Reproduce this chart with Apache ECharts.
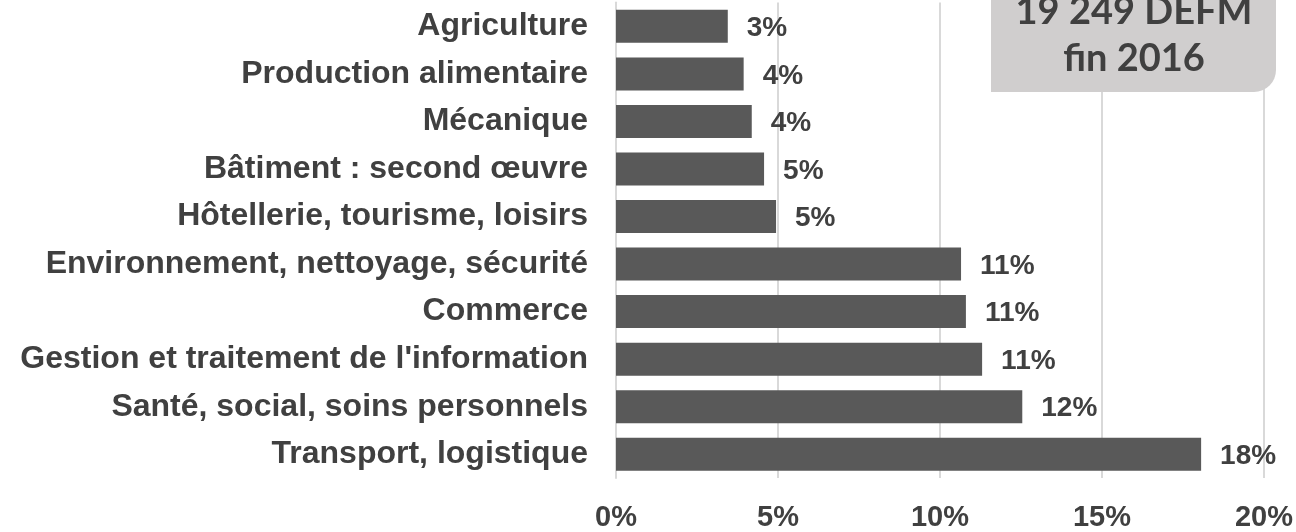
<!DOCTYPE html>
<html>
<head>
<meta charset="utf-8">
<script src="https://cdn.jsdelivr.net/npm/echarts@6/dist/echarts.min.js"></script>
<style>
html,body{margin:0;padding:0;background:#fff;}
#chart{width:1296px;height:532px;}
</style>
</head>
<body>
<div id="chart"></div>
<script>
const categories = [
  "Agriculture",
  "Production alimentaire",
  "Mécanique",
  "Bâtiment : second œuvre",
  "Hôtellerie, tourisme, loisirs",
  "Environnement, nettoyage, sécurité",
  "Commerce",
  "Gestion et traitement de l'information",
  "Santé, social, soins personnels",
  "Transport, logistique"
];
const values = [3.45, 3.94, 4.19, 4.57, 4.94, 10.65, 10.8, 11.3, 12.54, 18.06];
const valueLabels = ["3%", "4%", "4%", "5%", "5%", "11%", "11%", "11%", "12%", "18%"];
const xTicks = [0, 5, 10, 15, 20];
const boxLines = ["19 249 DEFM", "fin 2016"];

const chart = echarts.init(document.getElementById('chart'));
chart.setOption({
  animation: false,
  backgroundColor: '#ffffff',
  grid: { left: 616, right: 31, top: 2.6, bottom: 51, containLabel: false },
  xAxis: {
    type: 'value',
    min: xTicks[0],
    max: xTicks[xTicks.length - 1],
    interval: 5,
    axisLine: { show: false },
    axisTick: { show: false },
    splitLine: { show: true, lineStyle: { color: '#d9d9d9', width: 2 } },
    axisLabel: {
      margin: 25,
      color: '#404040',
      fontFamily: 'Liberation Sans, Arial, sans-serif',
      fontWeight: 'bold',
      fontSize: 29,
      formatter: v => v + '%'
    }
  },
  yAxis: {
    type: 'category',
    data: categories,
    inverse: true,
    axisLine: { show: true, lineStyle: { color: '#d9d9d9', width: 2 } },
    axisTick: { show: false },
    axisLabel: {
      margin: 28,
      color: '#404040',
      fontFamily: 'Liberation Sans, Arial, sans-serif',
      fontWeight: 'bold',
      fontSize: 32
    }
  },
  series: [{
    type: 'bar',
    data: values,
    barWidth: 33,
    itemStyle: { color: '#595959' },
    label: {
      show: true,
      position: 'right',
      distance: 19,
      offset: [0, 2],
      color: '#404040',
      fontFamily: 'Liberation Sans, Arial, sans-serif',
      fontWeight: 'bold',
      fontSize: 28,
      formatter: p => valueLabels[p.dataIndex]
    }
  }],
  graphic: [
    {
      type: 'rect',
      left: 991,
      top: -20,
      shape: { width: 285, height: 112, r: [0, 0, 22, 0] },
      style: { fill: '#d0cece' },
      z: 10
    },
    {
      type: 'text',
      x: 1134,
      y: 31,
      style: {
        text: boxLines[0],
        fill: '#404040',
        font: 'bold 38px Lato, "Open Sans", sans-serif',
        textAlign: 'center',
        textVerticalAlign: 'bottom'
      },
      z: 11
    },
    {
      type: 'text',
      x: 1134,
      y: 78,
      style: {
        text: boxLines[1],
        fill: '#404040',
        font: 'bold 38px Lato, "Open Sans", sans-serif',
        textAlign: 'center',
        textVerticalAlign: 'bottom'
      },
      z: 11
    }
  ]
});
</script>
</body>
</html>
